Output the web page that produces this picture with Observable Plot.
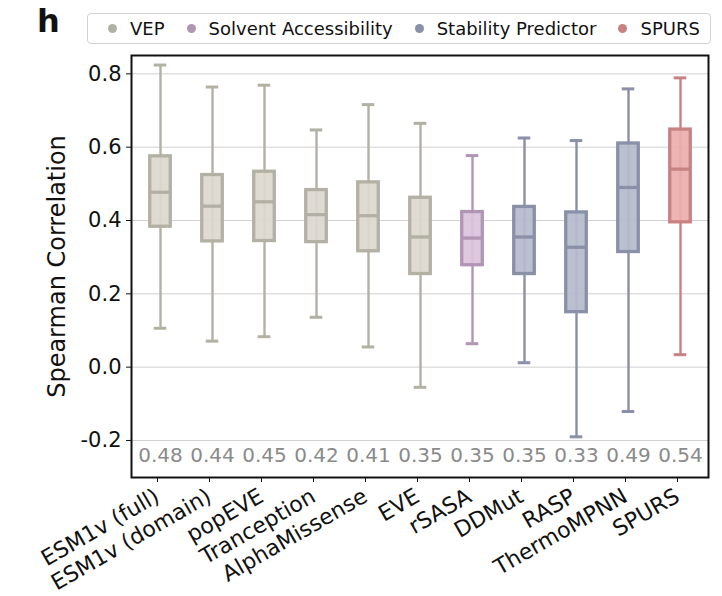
<!DOCTYPE html>
<html>
<head>
<meta charset="utf-8">
<script src="https://cdn.jsdelivr.net/npm/d3@7"></script>
<script src="https://cdn.jsdelivr.net/npm/@observablehq/plot@0.6"></script>
<style>
  html, body { margin: 0; padding: 0; background: white; }
  #wrap { position: relative; width: 722px; height: 596px; font-family: "DejaVu Sans", sans-serif; }
  #panel { position: absolute; left: 37px; top: 5px; font-size: 32px; font-weight: bold; line-height: 1; color: #111; }
  #legend { position: absolute; left: 87px; top: 13px; width: 602px; height: 29px; border: 1.6px solid #d2d2d2; border-radius: 4px;
            display: flex; align-items: center; padding-left: 20px; box-sizing: content-box; font-size: 18px; color: #111; }
  .item { display: flex; align-items: center; margin-right: 22px; white-space: nowrap; }
  .dot { width: 9px; height: 9px; border-radius: 50%; margin-right: 13px; }
  #chart { position: absolute; left: 0; top: 0; }
</style>
</head>
<body>
<div id="wrap">
  <div id="chart"></div>
  <div id="panel">h</div>
  <div id="legend"></div>
</div>
<script>
const models = ["ESM1v (full)", "ESM1v (domain)", "popEVE", "Tranception", "AlphaMissense", "EVE", "rSASA", "DDMut", "RASP", "ThermoMPNN", "SPURS"];
const groups = ["VEP", "VEP", "VEP", "VEP", "VEP", "VEP", "Solvent Accessibility", "Stability Predictor", "Stability Predictor", "Stability Predictor", "SPURS"];
const whiskerLow  = [0.106, 0.071, 0.083, 0.136, 0.055, -0.055, 0.064, 0.012, -0.190, -0.121, 0.034];
const q1          = [0.383, 0.343, 0.344, 0.341, 0.316, 0.254, 0.278, 0.254, 0.150, 0.314, 0.395];
const medians     = [0.477, 0.439, 0.451, 0.416, 0.413, 0.355, 0.352, 0.355, 0.327, 0.490, 0.540];
const q3          = [0.575, 0.524, 0.533, 0.483, 0.504, 0.462, 0.423, 0.437, 0.422, 0.610, 0.648];
const whiskerHigh = [0.824, 0.764, 0.769, 0.647, 0.716, 0.665, 0.577, 0.625, 0.618, 0.759, 0.789];
const medianLabels = ["0.48", "0.44", "0.45", "0.42", "0.41", "0.35", "0.35", "0.35", "0.33", "0.49", "0.54"];
const legendGroups = ["VEP", "Solvent Accessibility", "Stability Predictor", "SPURS"];
const strokeColors = ["#b3b0a4", "#b095b5", "#8990a8", "#c98282"];
const fillColors   = ["#dcd8cf", "#dbc3dc", "#b5bbcd", "#eaafae"];
const yTicks = [-0.2, 0.0, 0.2, 0.4, 0.6, 0.8];

const strokeOf = g => strokeColors[legendGroups.indexOf(g)];
const fillOf = g => fillColors[legendGroups.indexOf(g)];

const rows = models.map((m, i) => ({
  model: m, group: groups[i], lo: whiskerLow[i], q1: q1[i], med: medians[i], q3: q3[i], hi: whiskerHigh[i], label: medianLabels[i]
}));

const bandW = 577 / models.length;
const boxInset = (bandW - 21) / 2;
const capInset = (bandW - 13) / 2;

const chart = Plot.plot({
  width: 722,
  height: 596,
  marginLeft: 131,
  marginRight: 14,
  marginTop: 55,
  marginBottom: 119,
  style: { fontFamily: "DejaVu Sans, sans-serif", fontSize: "20px", background: "transparent", color: "#111" },
  x: { domain: models, padding: 0, label: null },
  y: { domain: [-0.301, 0.85], label: null },
  color: { type: "identity" },
  marks: [
    Plot.gridY(yTicks, { stroke: "#d0d0d0", strokeOpacity: 1, strokeWidth: 1 }),
    Plot.ruleX(rows, { x: "model", y1: "lo", y2: "hi", stroke: d => strokeOf(d.group), strokeWidth: 2.4 }),
    Plot.tickY(rows, { x: "model", y: "lo", stroke: d => strokeOf(d.group), strokeWidth: 3, insetLeft: capInset, insetRight: capInset }),
    Plot.tickY(rows, { x: "model", y: "hi", stroke: d => strokeOf(d.group), strokeWidth: 3, insetLeft: capInset, insetRight: capInset }),
    Plot.barY(rows, { x: "model", y1: "q1", y2: "q3", fill: d => fillOf(d.group), fillOpacity: 0.92, stroke: d => strokeOf(d.group), strokeWidth: 3.3, insetLeft: boxInset, insetRight: boxInset }),
    Plot.tickY(rows, { x: "model", y: "med", stroke: d => strokeOf(d.group), strokeWidth: 3.3, insetLeft: boxInset, insetRight: boxInset }),
    Plot.text(rows, { x: "model", text: "label", frameAnchor: "bottom", lineAnchor: "middle", dy: -22, fill: "#8a8a8a", fontSize: 20 }),
    Plot.axisY(yTicks, { tickFormat: d => d.toFixed(1), tickSize: 5, tickPadding: 5, fontSize: 21, label: null, stroke: "#111" }),
    Plot.axisX({ tickSize: 5, tickPadding: 12, tickRotate: -30, fontSize: 22, label: null, dx: -3 }),
    Plot.text(["Spearman Correlation"], { frameAnchor: "left", textAnchor: "middle", rotate: -90, dx: -74, fontSize: 24, fill: "#111" }),
    Plot.frame({ stroke: "#111", strokeWidth: 2 })
  ]
});
document.getElementById("chart").appendChild(chart);

const legend = document.getElementById("legend");
legendGroups.forEach((g, i) => {
  const item = document.createElement("div");
  item.className = "item";
  const dot = document.createElement("span");
  dot.className = "dot";
  dot.style.background = strokeColors[i];
  const lab = document.createElement("span");
  lab.textContent = g;
  item.appendChild(dot);
  item.appendChild(lab);
  legend.appendChild(item);
});
</script>
</body>
</html>
